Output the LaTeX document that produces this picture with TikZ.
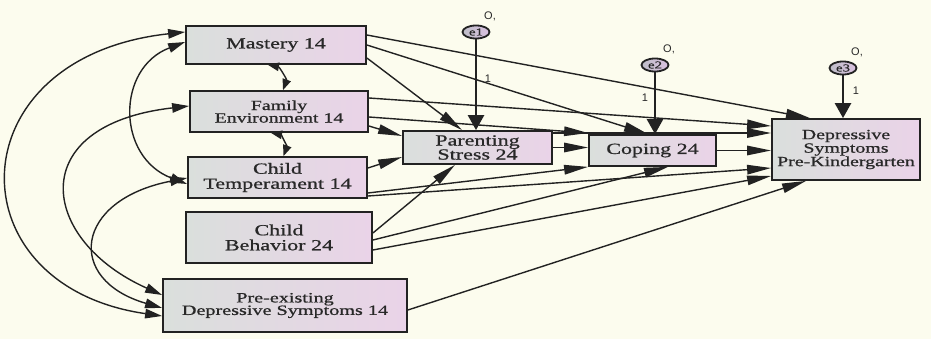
\documentclass[tikz,border=0pt]{standalone}
\usepackage{fontspec}
\setmainfont{Liberation Serif}[FakeStretch=1.42,FakeBold=0.9]
\setsansfont{Liberation Sans}
\usetikzlibrary{arrows.meta,shapes.geometric,calc}
\definecolor{bg}{RGB}{252,252,238}
\definecolor{boxL}{RGB}{218,223,220}
\definecolor{boxR}{RGB}{234,211,232}
\definecolor{ink}{RGB}{34,34,34}
\definecolor{txt}{RGB}{40,40,40}
\definecolor{eL}{RGB}{190,190,200}
\definecolor{eR}{RGB}{218,192,224}
\begin{document}
\begin{tikzpicture}[x=1pt,y=-1pt,
  box/.style={draw=ink, line width=1.8pt, left color=boxL, right color=boxR, text=txt, align=center, inner sep=0pt},
  err/.style={ellipse, draw=ink, line width=1.8pt, left color=eL, right color=eR, minimum width=27pt, minimum height=13pt, inner sep=0pt, text=txt, font=\fontsize{10.5}{10}\selectfont},
  path/.style={draw=ink, line width=1.4pt, -{Triangle[length=24pt,width=9.5pt]}},
  epath/.style={draw=ink, line width=2.6pt, -{Triangle[length=15pt,width=16pt]}},
  cov/.style={draw=ink, line width=1.4pt, {Triangle[length=17pt,width=9.5pt]}-{Triangle[length=17pt,width=9.5pt]}},
  covs/.style={draw=ink, line width=1.4pt, {Triangle[length=11pt,width=8.5pt]}-{Triangle[length=11pt,width=8.5pt]}},
  lbl/.style={font=\sffamily\fontsize{11}{11}\selectfont, text=txt, inner sep=0pt}
]
\fill[bg] (0,0) rectangle (931,339);
\useasboundingbox (0,0) rectangle (931,339);

% boxes
\node[box, minimum width=180pt, minimum height=38pt, font=\fontsize{15.5}{15}\selectfont] (M) at (276,45) {Mastery 14};
\node[box, minimum width=178pt, minimum height=41pt, font=\fontsize{14}{12.5}\selectfont] (F) at (279,111.5) {Family\\Environment 14};
\node[box, minimum width=179pt, minimum height=41pt, font=\fontsize{15.5}{15}\selectfont] (CT) at (277.5,177.5) {Child\\Temperament 14};
\node[box, minimum width=186pt, minimum height=51pt, font=\fontsize{15.5}{15}\selectfont] (CB) at (279,237.5) {Child\\Behavior 24};
\node[box, minimum width=244pt, minimum height=53pt, font=\fontsize{14.2}{12.5}\selectfont] (PE) at (285,305.5) {Pre-existing\\Depressive Symptoms 14};
\node[box, minimum width=149pt, minimum height=33pt, font=\fontsize{15.5}{14}\selectfont] (PS) at (477.5,147.5) {Parenting\\Stress 24};
\node[box, minimum width=127pt, minimum height=31pt, font=\fontsize{15.5}{15}\selectfont] (Cop) at (652.5,150.5) {Coping 24};
\node[box, minimum width=148pt, minimum height=61pt, font=\fontsize{14}{13.5}\selectfont] (Dep) at (846,149.5) {Depressive\\Symptoms\\Pre-Kindergarten};

% error terms
\node[err] (e1) at (476,32) {e1};
\node[err] (e2) at (655,65) {e2};
\node[err] (e3) at (843,68) {e3};
\node[lbl] (o1) at (490,16) {O,};
\node[lbl] (o2) at (669,49) {O,};
\node[lbl] (o3) at (857,52) {O,};
\node[lbl] (w1) at (488,79) {1};
\node[lbl] (w2) at (645,98) {1};
\node[lbl] (w3) at (856,91) {1};

% regression paths
\draw[path] ([yshift=10pt]M.east) -- ([xshift=-36pt]Dep.north);
\draw[path] (M.east) -- ([xshift=-4.5pt]Cop.north);
\draw[path] ([yshift=-13pt]M.east) -- ([xshift=-15.5pt]PS.north);
\draw[path] ([yshift=13.5pt]F.east) -- ([yshift=23.5pt]Dep.west);
\draw[path] ([yshift=-5.5pt]F.east) -- ([yshift=17.5pt]Cop.west);
\draw[path] ([yshift=-14.5pt]F.east) -- ([yshift=11.5pt]PS.west);
\draw[path] ([yshift=14.5pt]PS.east) -- ([yshift=16.5pt]Dep.west);
\draw[path] (PS.east) -- (PS.east -| Cop.west);
\draw[path] (Cop.east) -- (Cop.east -| Dep.west);
\draw[path] ([yshift=9.5pt]CT.east) -- ([yshift=-9.5pt]PS.west);
\draw[path] ([yshift=-15.5pt]CT.east) -- (Cop.south west);
\draw[path] ([yshift=-18.5pt]CT.east) -- ([yshift=-18.5pt]Dep.west);
\draw[path] ([yshift=4.5pt]CB.east) -- ([xshift=-22.5pt]PS.south);
\draw[path] ([yshift=-2.5pt]CB.east) -- ([xshift=15.5pt]Cop.south);
\draw[path] ([yshift=-12.5pt]CB.east) -- ([yshift=-26.5pt]Dep.west);
\draw[path] ([yshift=-4.5pt]PE.east) -- ([xshift=-40pt]Dep.south);

% error paths
\draw[epath] (e1.south) -- (e1.south |- PS.north);
\draw[epath] (e2.south) -- (e2.south |- Cop.north);
\draw[epath] (e3.south) -- (e3.south |- Dep.north);

% covariances
\draw[cov] ([yshift=13pt]M.west) .. controls +(-230,25) and +(-210,-30) .. ([yshift=-10.5pt]PE.west);
\draw[cov] ([yshift=5.5pt]F.west) .. controls +(-166,19) and +(-123,-55) .. ([yshift=10.5pt]PE.west);
\draw[cov] ([yshift=-0.5pt]CT.west) .. controls +(-113,22) and +(-97,-28) .. ([yshift=-2.5pt]PE.west);
\draw[cov] ([yshift=3pt]M.west) .. controls +(-69,26) and +(-71,-27) .. ([yshift=-6.5pt]CT.west);
\draw[covs] ([xshift=-8pt]M.south) to[out=-10,in=70] ([xshift=4pt]F.north);
\draw[covs] ([xshift=-8pt]F.south) to[out=-10,in=70] ([xshift=6pt]CT.north);
\end{tikzpicture}
\end{document}
